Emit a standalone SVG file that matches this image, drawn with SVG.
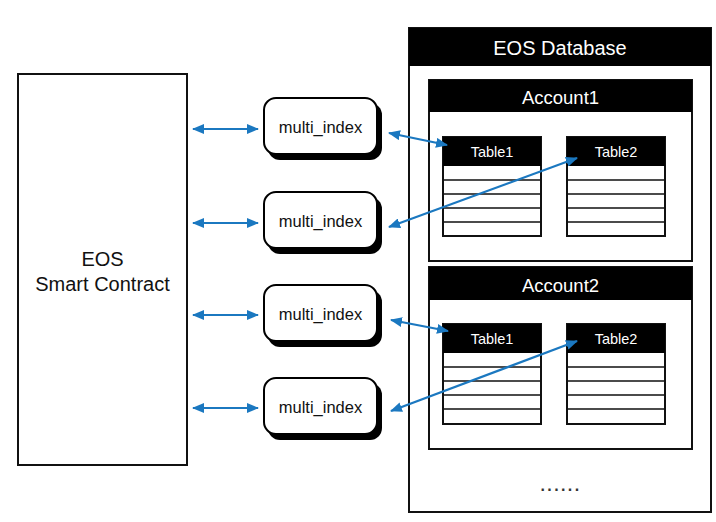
<svg xmlns="http://www.w3.org/2000/svg" width="716" height="522" viewBox="0 0 716 522">
<defs>
<marker id="ah" viewBox="0 0 12 10" refX="11" refY="5" markerWidth="12" markerHeight="10" markerUnits="userSpaceOnUse" orient="auto-start-reverse">
<path d="M0,0 L12,5 L0,10 z" fill="#1b78c0"/>
</marker>
</defs>
<style>
text{font-family:"Liberation Sans",Arial,sans-serif;text-anchor:middle;dominant-baseline:central}
.box{fill:#fff;stroke:#111;stroke-width:2}
.hdr{fill:#000}
.wt{fill:#fff}
.row{stroke:#111;stroke-width:1.5;fill:none}
.conn{stroke:#1b78c0;stroke-width:2.2;fill:none;marker-start:url(#ah);marker-end:url(#ah)}
.mi{fill:#fff;stroke:#000;stroke-width:2}
.sh{fill:#000}
</style>
<rect width="716" height="522" fill="#fff"/>

<g id="smart-contract">
<rect class="box" x="18" y="74" width="169" height="391"/>
<text x="102.5" y="259" font-size="20" fill="#111">EOS</text>
<text x="102.5" y="284" font-size="20" fill="#111">Smart Contract</text>
</g>

<g id="multi-index-1">
<rect class="sh" x="268" y="103" width="114" height="57" rx="12"/>
<rect class="mi" x="264" y="98" width="113" height="56" rx="12"/>
<text x="320.5" y="127" font-size="16.5" fill="#111">multi_index</text>
</g>
<g id="multi-index-2">
<rect class="sh" x="268" y="197" width="114" height="57" rx="12"/>
<rect class="mi" x="264" y="192" width="113" height="56" rx="12"/>
<text x="320.5" y="221" font-size="16.5" fill="#111">multi_index</text>
</g>
<g id="multi-index-3">
<rect class="sh" x="268" y="290" width="114" height="57" rx="12"/>
<rect class="mi" x="264" y="285" width="113" height="56" rx="12"/>
<text x="320.5" y="314" font-size="16.5" fill="#111">multi_index</text>
</g>
<g id="multi-index-4">
<rect class="sh" x="268" y="383" width="114" height="57" rx="12"/>
<rect class="mi" x="264" y="378" width="113" height="56" rx="12"/>
<text x="320.5" y="407" font-size="16.5" fill="#111">multi_index</text>
</g>

<g id="eos-database">
<rect class="box" x="409" y="28" width="302" height="484"/>
<rect class="hdr" x="409" y="28" width="302" height="38"/>
<text class="wt" x="560" y="47.5" font-size="20">EOS Database</text>
<text x="561" y="485" font-size="16" font-weight="bold" letter-spacing="2.4" fill="#333">......</text>
</g>

<g id="account1">
<rect class="box" x="429" y="80" width="263" height="181"/>
<rect class="hdr" x="429" y="80" width="263" height="32"/>
<text class="wt" x="560.5" y="97" font-size="18.5">Account1</text>
</g>
<g id="account1-table1">
<rect class="box" x="443" y="137" width="98" height="99"/>
<rect class="hdr" x="443" y="137" width="98" height="29"/>
<text class="wt" x="492" y="152" font-size="14.5">Table1</text>
<path class="row" d="M443,180H541M443,194H541M443,208H541M443,222H541"/>
</g>
<g id="account1-table2">
<rect class="box" x="567" y="137" width="98" height="99"/>
<rect class="hdr" x="567" y="137" width="98" height="29"/>
<text class="wt" x="616" y="152" font-size="14.5">Table2</text>
<path class="row" d="M567,180H665M567,194H665M567,208H665M567,222H665"/>
</g>

<g id="account2">
<rect class="box" x="429" y="267" width="263" height="182"/>
<rect class="hdr" x="429" y="267" width="263" height="33"/>
<text class="wt" x="560.5" y="285" font-size="18.5">Account2</text>
</g>
<g id="account2-table1">
<rect class="box" x="443" y="324" width="98" height="100"/>
<rect class="hdr" x="443" y="324" width="98" height="29"/>
<text class="wt" x="492" y="339" font-size="14.5">Table1</text>
<path class="row" d="M443,367H541M443,381H541M443,395H541M443,409H541"/>
</g>
<g id="account2-table2">
<rect class="box" x="567" y="324" width="98" height="100"/>
<rect class="hdr" x="567" y="324" width="98" height="29"/>
<text class="wt" x="616" y="339" font-size="14.5">Table2</text>
<path class="row" d="M567,367H665M567,381H665M567,395H665M567,409H665"/>
</g>

<g id="connectors">
<line class="conn" x1="193" y1="129" x2="258" y2="129"/>
<line class="conn" x1="193" y1="223" x2="258" y2="223"/>
<line class="conn" x1="193" y1="315" x2="258" y2="315"/>
<line class="conn" x1="193" y1="408" x2="258" y2="408"/>
<line class="conn" x1="389" y1="133" x2="447" y2="145"/>
<line class="conn" x1="389" y1="227" x2="577" y2="158"/>
<line class="conn" x1="391" y1="320" x2="448" y2="331"/>
<line class="conn" x1="391" y1="411" x2="577" y2="341"/>
</g>
</svg>
